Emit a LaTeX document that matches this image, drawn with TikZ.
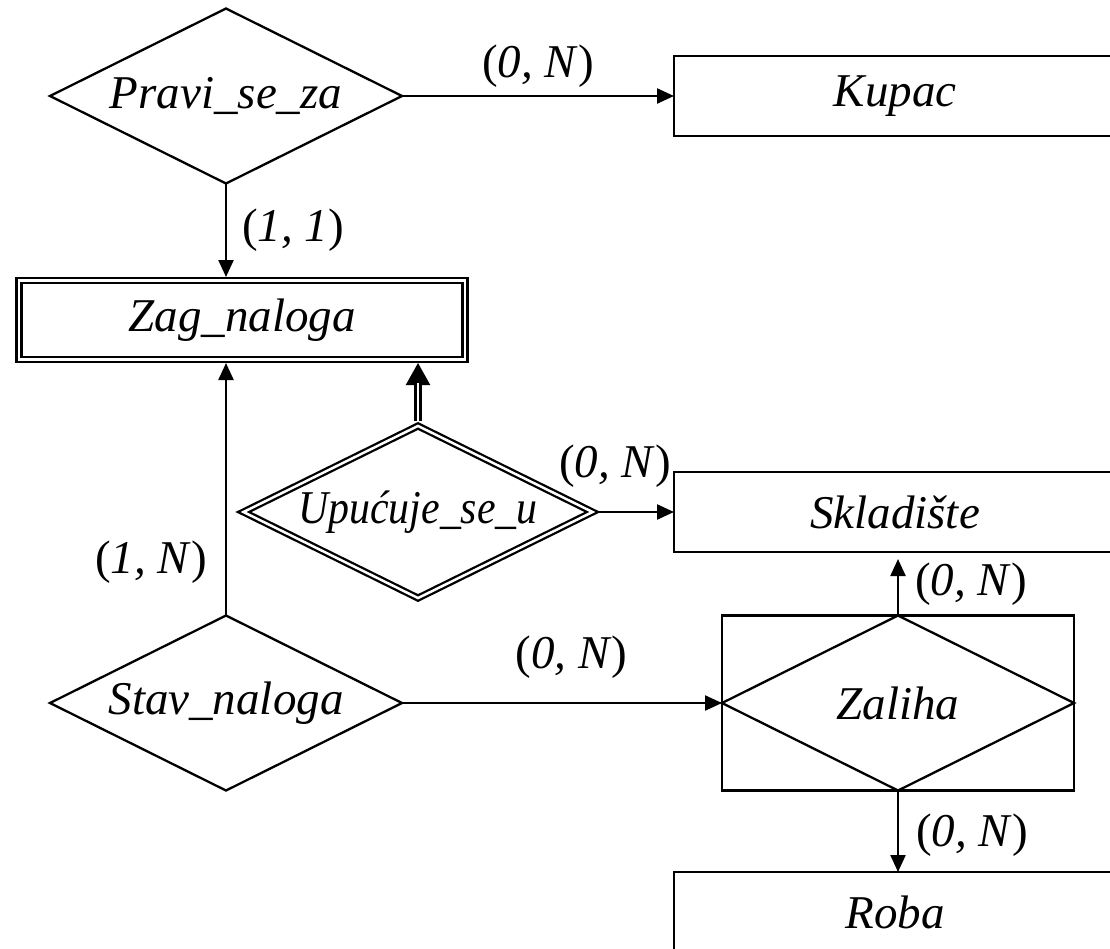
\documentclass[tikz,border=0pt]{standalone}
\usepackage{fontspec}
\setmainfont{Liberation Serif}[ItalicFont={Liberation Serif Italic}]
\usepackage{tikz}
\usetikzlibrary{positioning,arrows.meta,shapes.geometric}

\begin{document}
\begin{tikzpicture}
    [x=1pt,y=-1pt,line width=2.3pt,
     font=\fontsize{47}{56}\selectfont\itshape,
     ent/.style={draw,rectangle,outer sep=0,inner sep=0,
                 minimum width=442pt,minimum height=80pt},
     wkent/.style={ent,double,double distance=2.5pt,outer sep=3.5pt,
                   minimum width=446pt,minimum height=79pt},
     rel/.style={draw,diamond,aspect=2,outer sep=0,inner sep=0,
                 minimum width=352pt,minimum height=175pt},
     wkrel/.style={rel,double,double distance=2.5pt,outer sep=3.5pt},
     con/.style={-{Triangle[length=17pt,width=15pt]}},
     card/.style={inner sep=0}]
    \def\crd#1#2{\textup{(}#1, #2\textup{)}}

    \useasboundingbox (0,0) rectangle (1110,948);

    \node[rel]   (pravi) at (226,96)  {Pravi\_se\_za};
    \node[ent]   (kupac) at (895,96)  {Kupac};
    \node[wkent] (zag)   at (242,320) {Zag\_naloga};
    \node[wkrel] (upu)   at (418,512) {\scalebox{0.89}[1]{Upućuje\_se\_u}};
    \node[ent]   (skl)   at (895,512) {Skladište};
    \node[rel]   (stav)  at (226,703) {Stav\_naloga};
    \node[draw,minimum width=352pt,minimum height=175pt] (zal) at (898,703) {};
    \node[rel]   (zald)  at (zal) {Zaliha};
    \node[ent]   (roba)  at (895,912) {Roba};

    \draw[con] (pravi.east) -- node[card,above=7pt] {\crd{0}{N}} (kupac.west);
    \draw[con] (pravi.south) -- node[card,right=15pt] {\crd{1}{1}}
        (pravi.south |- zag.north);
    \draw[con] (stav.north) -- node[card,left=18pt,pos=0.21] {\crd{1}{N}}
        (stav.north |- zag.south);
    % weak link: plain line with big tip, double line on top
    \draw[-{Triangle[length=22pt,width=24pt]}] (upu.north) -- (upu.north |- zag.south);
    \draw[double,double distance=2.5pt,shorten >=20pt] (upu.north) -- (upu.north |- zag.south);
    \draw[con] (upu.east) -- node[card,above=23pt,pos=0.23] {\crd{0}{N}} (skl.west);
    \draw[con] (stav.east) -- node[card,above=23pt,pos=0.53] {\crd{0}{N}} (zald.west);
    \draw[con,shorten >=7pt] (zald.north) -- node[card,right=16pt] {\crd{0}{N}}
        (zald.north |- skl.south);
    \draw[con] (zald.south) -- node[card,right=17pt,pos=0.55] {\crd{0}{N}}
        (zald.south |- roba.north);
\end{tikzpicture}
\end{document}
